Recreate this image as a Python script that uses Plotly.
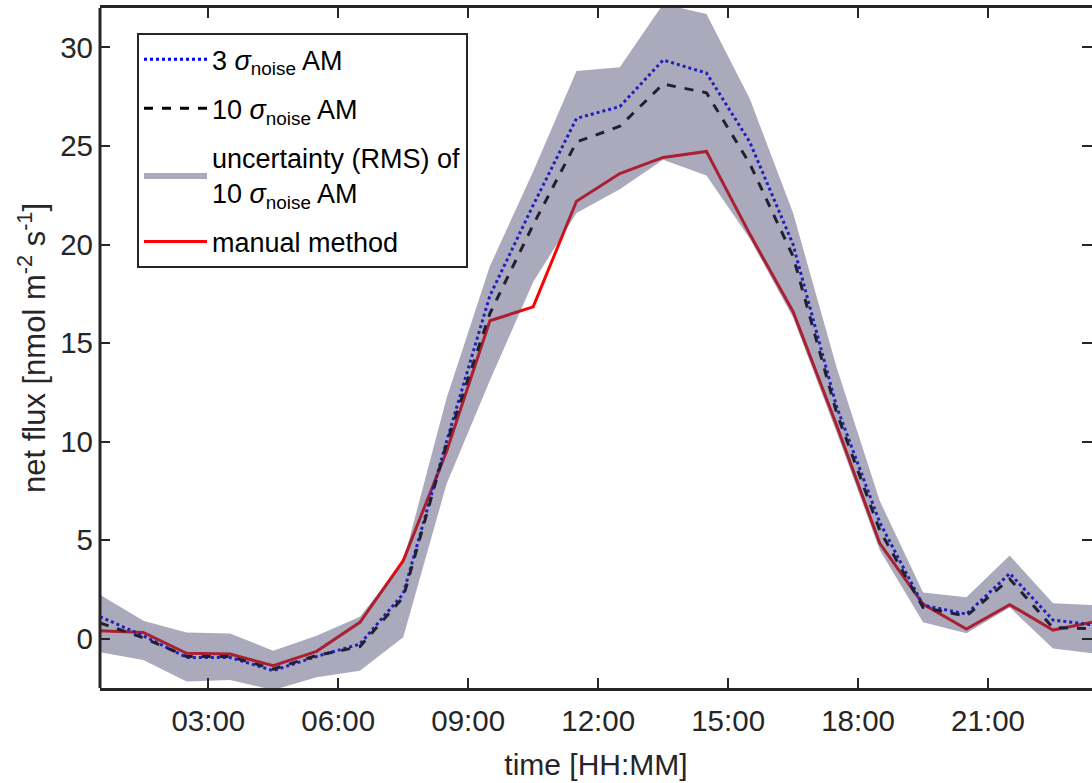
import plotly.graph_objects as go

# time of day in hours (half-hour centred hourly values)
hours = [0.5, 1.5, 2.5, 3.5, 4.5, 5.5, 6.5, 7.5, 8.5, 9.5, 10.5, 11.5,
         12.5, 13.5, 14.5, 15.5, 16.5, 17.5, 18.5, 19.5, 20.5, 21.5, 22.5, 23.5]

manual = [0.41, 0.32, -0.74, -0.78, -1.37, -0.64, 0.83, 3.96, 9.5, 16.13, 16.84, 22.2,
          23.6, 24.42, 24.72, 20.53, 16.59, 10.86, 4.84, 1.76, 0.49, 1.73, 0.44, 0.88]
am3 = [1.12, 0.15, -0.95, -0.95, -1.62, -0.9, -0.27, 2.28, 10.0, 17.4, 22.0, 26.4,
       27.0, 29.36, 28.7, 25.2, 20.0, 11.8, 5.9, 1.7, 1.25, 3.31, 0.95, 0.68]
am10 = [0.8, 0.05, -0.9, -0.9, -1.54, -0.85, -0.4, 2.1, 9.9, 16.5, 21.0, 25.2,
        26.0, 28.14, 27.7, 24.1, 19.4, 11.5, 5.5, 1.59, 1.15, 3.03, 0.56, 0.5]
unc_upper = [2.23, 0.91, 0.32, 0.27, -0.61, 0.15, 1.12, 3.9, 12.2, 18.9, 23.7, 28.8,
             29.0, 32.2, 31.7, 27.4, 21.6, 13.8, 7.0, 2.35, 2.1, 4.22, 1.8, 1.7]
unc_lower = [-0.69, -1.08, -2.17, -2.1, -2.6, -1.96, -1.62, 0.07, 7.85, 13.1, 18.1, 21.6,
             22.8, 24.3, 23.5, 20.3, 16.3, 10.5, 4.5, 0.83, 0.28, 1.59, -0.5, -0.77]

tick_hours = [3, 6, 9, 12, 15, 18, 21]
tick_labels = ["03:00", "06:00", "09:00", "12:00", "15:00", "18:00", "21:00"]
y_ticks = [0, 5, 10, 15, 20, 25, 30]

FONT = "Liberation Sans, Arial, sans-serif"
AX = "#262626"

fig = go.Figure()

fig.add_trace(go.Scatter(
    x=hours, y=manual, mode="lines", name="manual method",
    line=dict(color="#ff0000", width=3), legendrank=4, legendgroup="d"))
fig.add_trace(go.Scatter(
    x=hours, y=am3, mode="lines", name="3 <i>σ</i><sub>noise</sub> AM",
    line=dict(color="#0000ff", width=3, dash="dot"), legendrank=1, legendgroup="a"))
fig.add_trace(go.Scatter(
    x=hours, y=am10, mode="lines", name="10 <i>σ</i><sub>noise</sub> AM",
    line=dict(color="#000000", width=3, dash="dash"), legendrank=2, legendgroup="b"))
fig.add_trace(go.Scatter(
    x=hours + hours[::-1], y=unc_upper + unc_lower[::-1], mode="lines",
    fill="toself", fillcolor="rgba(70,70,109,0.46)",
    line=dict(width=0, color="rgba(0,0,0,0)"),
    name="uncertainty (RMS) of<br>10 <i>σ</i><sub>noise</sub> AM", legendrank=3,
    legendgroup="c"))

fig.update_layout(
    width=1092, height=783,
    margin=dict(l=100, r=0, t=8, b=95),
    paper_bgcolor="white", plot_bgcolor="white",
    font=dict(family=FONT, size=29, color=AX),
    showlegend=True,
    legend=dict(
        x=0.0373, y=0.963, xanchor="left", yanchor="top",
        bgcolor="white", bordercolor=AX, borderwidth=2,
        font=dict(family=FONT, size=27, color="#000000"),
        traceorder="grouped", itemwidth=63, tracegroupgap=11,
    ),
    xaxis=dict(
        range=[0.5, 23.4], tickvals=tick_hours, ticktext=tick_labels,
        ticks="inside", ticklen=10, tickwidth=2, tickcolor=AX,
        showline=True, linewidth=3, linecolor=AX, mirror="ticks",
        showgrid=False, zeroline=False,
        tickfont=dict(size=29.5, color=AX), ticklabelstandoff=5,
        title=dict(text="time [HH:MM]", font=dict(size=30, color=AX), standoff=18),
    ),
    yaxis=dict(
        range=[-2.5, 32], tickvals=y_ticks,
        ticks="inside", ticklen=10, tickwidth=2, tickcolor=AX,
        showline=False, mirror="ticks",
        showgrid=False, zeroline=False,
        tickfont=dict(size=29.5, color=AX), ticklabelstandoff=6,
        title=dict(text="net flux [nmol m<sup>-2</sup> s<sup>-1</sup>]",
                   font=dict(size=31, color=AX), standoff=5),
    ),
    shapes=[dict(type="line", xref="paper", yref="paper", x0=0, x1=0, y0=0, y1=1,
                 line=dict(color=AX, width=3), layer="above")],
)

fig.write_html("out.html")
